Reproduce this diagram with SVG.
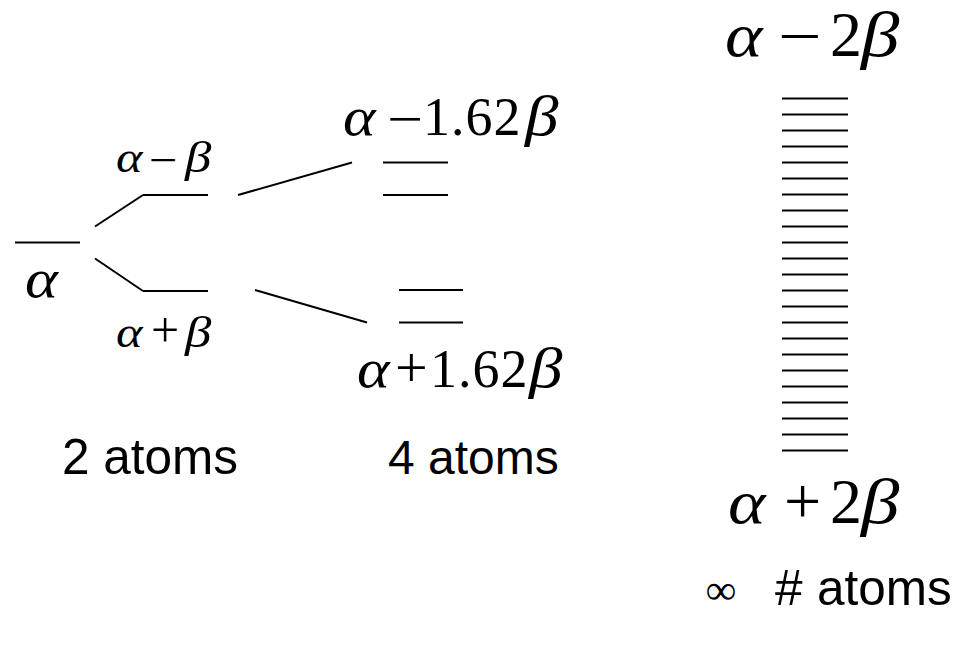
<svg xmlns="http://www.w3.org/2000/svg" width="966" height="647" viewBox="0 0 966 647">
<style>
.lv{stroke:#000;stroke-width:2;fill:none}
.m{font-family:"Liberation Serif","Times New Roman",serif;fill:#000}
.i{font-style:italic}
.s{font-family:"Liberation Sans",Arial,sans-serif;font-size:49.5px;fill:#000}
</style>
<rect width="966" height="647" fill="#fff"/>
<g id="n-alpha">
<line class="lv" x1="15" y1="242.5" x2="80" y2="242.5"/>
<text class="m i" font-size="56" transform="translate(25,296.7) scale(1.12,1)">α</text>
</g>
<g id="n-2atoms">
<line class="lv" x1="143" y1="195" x2="208" y2="195"/>
<line class="lv" x1="143" y1="291" x2="208" y2="291"/>
<text class="m i" font-size="44" transform="translate(116,171.7) scale(1.15,1)">α</text>
<text class="m" font-size="44" transform="translate(149,175) scale(1.15,1)">−</text>
<text class="m i" font-size="44" transform="translate(185,171.7) scale(1.2,1)">β</text>
<text class="m i" font-size="44" transform="translate(116,346.7) scale(1.15,1)">α</text>
<text class="m" font-size="50" x="151" y="346.7">+</text>
<text class="m i" font-size="44" transform="translate(185,346.7) scale(1.2,1)">β</text>
<text class="s" x="62" y="474">2 atoms</text>
</g>
<g id="n-4atoms">
<line class="lv" x1="383" y1="162.5" x2="448" y2="162.5"/>
<line class="lv" x1="383" y1="195" x2="448" y2="195"/>
<line class="lv" x1="399" y1="290" x2="463" y2="290"/>
<line class="lv" x1="399" y1="322.5" x2="463" y2="322.5"/>
<text class="m i" font-size="54" transform="translate(343,135) scale(1.15,1)">α</text>
<text class="m" font-size="54" transform="translate(387,137) scale(1.18,1)">−</text>
<text class="m" font-size="54" x="423" y="135" letter-spacing="1">1.62</text>
<text class="m i" font-size="56" transform="translate(525,135) scale(1.2,1)">β</text>
<text class="m i" font-size="54" transform="translate(357,386.7) scale(1.15,1)">α</text>
<text class="m" font-size="58" x="395" y="386.7">+</text>
<text class="m" font-size="54" x="430" y="386.7" letter-spacing="1">1.62</text>
<text class="m i" font-size="56" transform="translate(529,386.7) scale(1.2,1)">β</text>
<text class="s" x="388" y="474" style="font-size:48px">4 atoms</text>
</g>
<g id="n-inf">
<g class="lv">
<line x1="782" y1="98.5" x2="848" y2="98.5"/>
<line x1="782" y1="114.5" x2="848" y2="114.5"/>
<line x1="782" y1="130.5" x2="848" y2="130.5"/>
<line x1="782" y1="146.5" x2="848" y2="146.5"/>
<line x1="782" y1="162.5" x2="848" y2="162.5"/>
<line x1="782" y1="178.5" x2="848" y2="178.5"/>
<line x1="782" y1="194.5" x2="848" y2="194.5"/>
<line x1="782" y1="210.5" x2="848" y2="210.5"/>
<line x1="782" y1="226.5" x2="848" y2="226.5"/>
<line x1="782" y1="242.5" x2="848" y2="242.5"/>
<line x1="782" y1="258.5" x2="848" y2="258.5"/>
<line x1="782" y1="274.5" x2="848" y2="274.5"/>
<line x1="782" y1="290.5" x2="848" y2="290.5"/>
<line x1="782" y1="306.5" x2="848" y2="306.5"/>
<line x1="782" y1="322.5" x2="848" y2="322.5"/>
<line x1="782" y1="338.5" x2="848" y2="338.5"/>
<line x1="782" y1="354.5" x2="848" y2="354.5"/>
<line x1="782" y1="370.5" x2="848" y2="370.5"/>
<line x1="782" y1="386.5" x2="848" y2="386.5"/>
<line x1="782" y1="402.5" x2="848" y2="402.5"/>
<line x1="782" y1="418.5" x2="848" y2="418.5"/>
<line x1="782" y1="434.5" x2="848" y2="434.5"/>
<line x1="782" y1="450.5" x2="848" y2="450.5"/>
</g>
<text class="m i" font-size="62" transform="translate(725,55.5) scale(1.15,1)">α</text>
<text class="m" font-size="62" transform="translate(778,57) scale(1.25,1)">−</text>
<text class="m" font-size="64" x="830" y="55.5">2</text>
<text class="m i" font-size="64" transform="translate(861,55.5) scale(1.2,1)">β</text>
<text class="m i" font-size="62" transform="translate(728,523) scale(1.15,1)">α</text>
<text class="m" font-size="66" x="784" y="523">+</text>
<text class="m" font-size="64" x="830" y="523">2</text>
<text class="m i" font-size="64" transform="translate(861,523) scale(1.2,1)">β</text>
<text class="m i" x="706" y="604" font-size="42">∞</text>
<text class="s" x="775" y="605">#</text>
<text class="s" x="817" y="605">atoms</text>
</g>
<g id="connectors" class="lv">
<line x1="95" y1="226.5" x2="143" y2="195"/>
<line x1="95" y1="258.5" x2="143" y2="291"/>
<line x1="238" y1="195" x2="352" y2="162.5"/>
<line x1="255" y1="290" x2="367" y2="322.5"/>
</g>
</svg>
